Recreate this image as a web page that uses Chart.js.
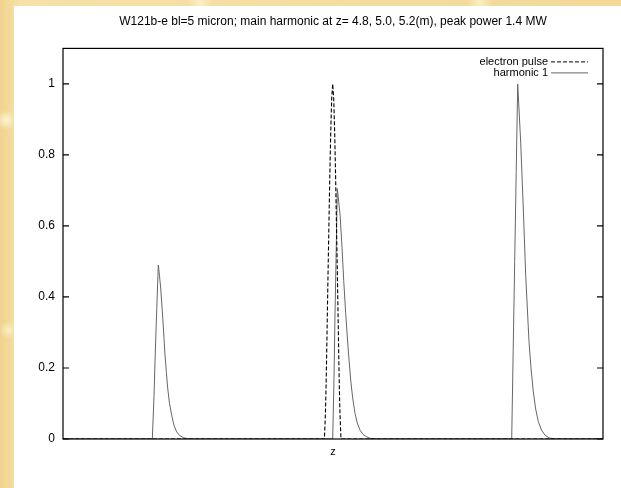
<!DOCTYPE html>
<html>
<head>
<meta charset="utf-8">
<script src="https://cdn.jsdelivr.net/npm/chart.js@4.4.1/dist/chart.umd.min.js"></script>
<style>
    html, body {
        margin: 0;
        padding: 0;
        width: 621px;
        height: 488px;
        overflow: hidden;
    }
    body {
        background:
            radial-gradient(circle at 6px 120px, rgba(255, 250, 225, 0.8) 0, rgba(255, 250, 225, 0) 10px),
            radial-gradient(circle at 8px 330px, rgba(255, 248, 215, 0.7) 0, rgba(255, 248, 215, 0) 9px),
            radial-gradient(circle at 200px 2px, rgba(255, 248, 215, 0.7) 0, rgba(255, 248, 215, 0) 12px),
            radial-gradient(circle at 480px 3px, rgba(255, 248, 215, 0.7) 0, rgba(255, 248, 215, 0) 12px),
            linear-gradient(90deg, #efd38e 0%, #f6e1a6 3%, #f2d998 100%);
    }
    #panel {
        position: absolute;
        left: 14px;
        top: 6px;
        width: 607px;
        height: 482px;
        background: #ffffff;
    }
</style>
</head>
<body>
<div id="panel"><canvas id="harmonicChart" width="607" height="482"></canvas></div>
<script>
// Values (z in arbitrary units across the frame, power normalised)
const harmonicZ = [0, 89.3, 91, 92.3, 93.8, 95.3, 96.5, 97.7, 98.8, 100, 101, 102, 103.3, 104.7,
    106.5, 108.7, 111, 113.7, 116.5, 120.3, 124, 128,
    269.7, 271, 272, 273.2, 274.3, 277, 279, 280.7, 282.7, 285, 287.7, 289.7, 292, 294.3, 297,
    300, 303.7, 307, 312,
    448.7, 450.2, 451.7, 453.2, 454.7, 457.7, 460.3, 462.7, 466, 468, 470.3, 472.7, 475.3,
    478.5, 482, 486, 492, 540];
const harmonicP = [0, 0, 0.12, 0.245, 0.37, 0.49, 0.46, 0.425, 0.38, 0.33, 0.283, 0.236, 0.19, 0.143,
    0.1, 0.067, 0.038, 0.02, 0.01, 0.004, 0.001, 0,
    0, 0.17, 0.35, 0.53, 0.705, 0.634, 0.54, 0.447, 0.353, 0.26, 0.166, 0.115, 0.072, 0.045, 0.025,
    0.013, 0.006, 0.002, 0,
    0, 0.25, 0.5, 0.75, 1.0, 0.836, 0.648, 0.461, 0.274, 0.2, 0.133, 0.084, 0.049,
    0.025, 0.011, 0.003, 0, 0];

const pulseZ = [0, 261.4, 262, 262.6, 263.3, 264.1, 265, 265.9, 266.8, 267.7, 268.7, 269.7,
    270.7, 271.7, 272.6, 273.5, 274.4, 275.3, 276.1, 276.8, 277.4, 278, 540];
const pulseP = [0, 0, 0.04, 0.09, 0.18, 0.31, 0.46, 0.6, 0.74, 0.86, 0.96, 1.0,
    0.96, 0.86, 0.74, 0.6, 0.46, 0.31, 0.18, 0.09, 0.04, 0, 0];

const yTicks = [0, 0.2, 0.4, 0.6, 0.8, 1];
const titleText = 'W121b-e bl=5 micron; main harmonic at z= 4.8, 5.0, 5.2(m), peak power 1.4 MW';

const FONT = '"Liberation Sans", Arial, sans-serif';

function toPoints(xs, ys) {
    return xs.map((x, i) => ({ x: x, y: ys[i] }));
}

// gnuplot style frame, inward ticks and key inside the plot
const gnuplotFrame = {
    id: 'gnuplotFrame',
    afterDraw(chart) {
        const ctx = chart.ctx;
        const area = chart.chartArea;
        const yScale = chart.scales.y;
        ctx.save();
        ctx.strokeStyle = '#000';
        ctx.lineWidth = 1.2;
        ctx.setLineDash([]);
        ctx.strokeRect(area.left, area.top, area.right - area.left, area.bottom - area.top);
        yTicks.forEach(v => {
            const py = yScale.getPixelForValue(v);
            ctx.beginPath();
            ctx.moveTo(area.left, py);
            ctx.lineTo(area.left + 6, py);
            ctx.moveTo(area.right, py);
            ctx.lineTo(area.right - 6, py);
            ctx.stroke();
        });

        // key
        ctx.font = '11px ' + FONT;
        ctx.fillStyle = '#000';
        ctx.textAlign = 'right';
        ctx.textBaseline = 'middle';
        chart.data.datasets.forEach((ds, i) => {
            const ky = area.top + 13.5 + i * 11;
            ctx.fillText(ds.label, area.right - 55, ky);
            ctx.strokeStyle = ds.borderColor;
            ctx.lineWidth = 1;
            ctx.setLineDash(ds.borderDash || []);
            ctx.beginPath();
            ctx.moveTo(area.right - 52, ky);
            ctx.lineTo(area.right - 15, ky);
            ctx.stroke();
        });
        ctx.restore();
    }
};

document.addEventListener('DOMContentLoaded', function() {
    const ctx = document.getElementById('harmonicChart').getContext('2d');
    const harmonicChart = new Chart(ctx, {
        type: 'line',
        data: {
            datasets: [{
                label: 'electron pulse',
                data: toPoints(pulseZ, pulseP),
                borderColor: '#000000',
                borderWidth: 1.1,
                borderDash: [4, 2],
                pointRadius: 0,
                tension: 0,
                fill: false
            }, {
                label: 'harmonic 1',
                data: toPoints(harmonicZ, harmonicP),
                borderColor: '#666666',
                borderWidth: 1,
                pointRadius: 0,
                tension: 0,
                fill: false
            }]
        },
        options: {
            responsive: false,
            animation: false,
            events: [],
            layout: {
                padding: { left: 0, right: 18, top: 0, bottom: 0 }
            },
            scales: {
                x: {
                    type: 'linear',
                    min: 0,
                    max: 540,
                    grid: { display: false, drawTicks: false },
                    border: { display: false },
                    ticks: { display: false },
                    title: {
                        display: true,
                        text: 'z',
                        color: '#000',
                        font: { family: FONT, size: 11 },
                        padding: { top: 4, bottom: 29 }
                    },
                    afterFit: function(scale) { scale.height = 49; }
                },
                y: {
                    type: 'linear',
                    min: 0,
                    max: 1.1,
                    grid: { display: false, drawTicks: false },
                    border: { display: false },
                    ticks: {
                        color: '#000',
                        padding: 8,
                        font: { family: FONT, size: 12 },
                        callback: v => String(v)
                    },
                    afterBuildTicks: function(scale) {
                        scale.ticks = yTicks.map(v => ({ value: v }));
                    },
                    afterFit: function(scale) { scale.width = 49; }
                }
            },
            plugins: {
                legend: { display: false },
                tooltip: { enabled: false },
                title: {
                    display: true,
                    text: titleText,
                    fullSize: false,
                    color: '#000',
                    font: { family: FONT, size: 12, weight: 'normal' },
                    padding: { top: 8, bottom: 20 }
                }
            }
        },
        plugins: [gnuplotFrame]
    });
});
</script>
</body>
</html>
